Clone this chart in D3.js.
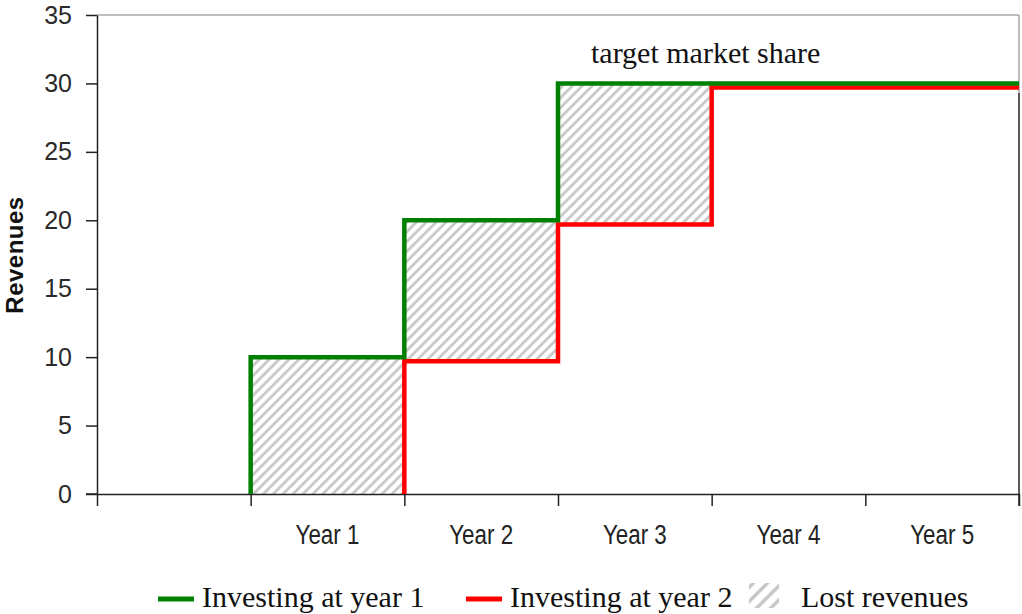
<!DOCTYPE html>
<html>
<head>
<meta charset="utf-8">
<script src="https://cdn.jsdelivr.net/npm/d3@7"></script>
<style>
  body { margin: 0; background: #fff; }
  svg { display: block; }
</style>
</head>
<body>
<script>
// chart data
const categories = ["", "Year 1", "Year 2", "Year 3", "Year 4", "Year 5"];
const investYear1 = [null, 10, 20, 30, 30, 30];
const investYear2 = [null, null, 9.7, 19.7, 29.7, 29.7];
const lostBands = ["Year 1", "Year 2", "Year 3"];
const yTicks = [0, 5, 10, 15, 20, 25, 30, 35];

const width = 1022;
const height = 614;
const margin = {top: 15, right: 3, bottom: 120, left: 97};

const svg = d3.select("body")
    .append("svg")
    .attr("width", width)
    .attr("height", height);

const defs = svg.append("defs");

defs.append("pattern")
    .attr("id", "hatch")
    .attr("patternUnits", "userSpaceOnUse")
    .attr("width", 7)
    .attr("height", 7)
    .attr("patternTransform", "rotate(45)")
    .append("line")
    .attr("x1", 3.5).attr("y1", 0)
    .attr("x2", 3.5).attr("y2", 7)
    .attr("stroke", "#c4c4c4")
    .attr("stroke-width", 2.6);

defs.append("pattern")
    .attr("id", "hatch-big")
    .attr("patternUnits", "userSpaceOnUse")
    .attr("width", 10)
    .attr("height", 10)
    .attr("patternTransform", "rotate(45)")
    .append("line")
    .attr("x1", 5).attr("y1", 0)
    .attr("x2", 5).attr("y2", 10)
    .attr("stroke", "#c4c4c4")
    .attr("stroke-width", 3.4);

const x = d3.scaleBand()
    .domain(categories)
    .range([margin.left, width - margin.right]);

const y = d3.scaleLinear()
    .domain([0, 35])
    .range([height - margin.bottom, margin.top]);

const x0 = margin.left, x1 = width - margin.right;
const y0 = y(0), yTop = y(35);

// hatched lost revenue
svg.append("g")
    .selectAll("rect")
    .data(lostBands)
    .enter()
    .append("rect")
    .attr("x", d => x(d))
    .attr("width", x.bandwidth())
    .attr("y", d => y(investYear1[categories.indexOf(d)]))
    .attr("height", d => {
        const i = categories.indexOf(d);
        return y(investYear2[i] || 0) - y(investYear1[i]);
    })
    .attr("fill", "url(#hatch)");

// plot border (top / right)
svg.append("line")
    .attr("x1", x0).attr("x2", x1)
    .attr("y1", yTop).attr("y2", yTop)
    .attr("stroke", "#a8a8a8").attr("stroke-width", 1.5);
svg.append("line")
    .attr("x1", x1).attr("x2", x1)
    .attr("y1", yTop).attr("y2", y(29.3))
    .attr("stroke", "#a8a8a8").attr("stroke-width", 1.5);
svg.append("line")
    .attr("x1", x1).attr("x2", x1)
    .attr("y1", y(29.3)).attr("y2", y0 + 12)
    .attr("stroke", "#222").attr("stroke-width", 1.5);

// y axis
const yAxis = svg.append("g")
    .attr("transform", `translate(${x0},0)`)
    .call(d3.axisLeft(y).tickValues(yTicks).tickSize(11).tickPadding(14).tickSizeOuter(0));
yAxis.select(".domain").attr("stroke", "#222").attr("stroke-width", 1.5);
yAxis.selectAll(".tick line").attr("stroke", "#222").attr("stroke-width", 1.5);
yAxis.selectAll("text")
    .attr("font-family", "'Liberation Sans', Arial, sans-serif")
    .attr("font-size", 25)
    .attr("fill", "#2a2a2a");

// x axis: ticks at band boundaries
const bounds = categories.map(c => x(c)).concat([x1]);
const xTickAxis = svg.append("g")
    .attr("transform", `translate(0,${y0})`)
    .call(d3.axisBottom(d3.scaleLinear().domain([x0, x1]).range([x0, x1]))
        .tickValues(bounds).tickSize(12).tickFormat("").tickSizeOuter(0));
xTickAxis.select(".domain").attr("stroke", "#222").attr("stroke-width", 1.5);
xTickAxis.selectAll(".tick line").attr("stroke", "#222").attr("stroke-width", 1.5);

const xLabelAxis = svg.append("g")
    .attr("transform", `translate(0,${y0})`)
    .call(d3.axisBottom(x).tickSize(0).tickPadding(30));
xLabelAxis.select(".domain").remove();
xLabelAxis.selectAll("text")
    .attr("font-family", "'Liberation Sans', Arial, sans-serif")
    .attr("font-size", 28)
    .attr("fill", "#222")
    .attr("transform", "scale(0.8,1)");

// y axis extends slightly left along baseline
svg.append("line")
    .attr("x1", x0 - 11).attr("x2", x0)
    .attr("y1", y0).attr("y2", y0)
    .attr("stroke", "#222").attr("stroke-width", 1.5);

svg.append("text")
    .attr("transform", "translate(23,255) rotate(-90)")
    .attr("text-anchor", "middle")
    .attr("font-family", "'Liberation Sans', Arial, sans-serif")
    .attr("font-weight", "bold")
    .attr("font-size", 24)
    .attr("letter-spacing", 0.5)
    .attr("fill", "#111")
    .text("Revenues");

// step lines
function stepPoints(values) {
    const i0 = values.findIndex(v => v !== null);
    const pts = [[x(categories[i0]), 0]];
    for (let i = i0; i < values.length; i++) pts.push([x(categories[i]), values[i]]);
    pts.push([x1, values[values.length - 1]]);
    return pts;
}

const line = d3.line()
    .x(d => d[0])
    .y(d => y(d[1]))
    .curve(d3.curveStepAfter);

svg.append("path")
    .attr("d", line(stepPoints(investYear2)))
    .attr("fill", "none")
    .attr("stroke", "#ff0000")
    .attr("stroke-width", 4.5);

svg.append("path")
    .attr("d", line(stepPoints(investYear1)))
    .attr("fill", "none")
    .attr("stroke", "#008000")
    .attr("stroke-width", 4.5);

svg.append("text")
    .attr("x", 591)
    .attr("y", 63)
    .attr("font-family", "'Liberation Serif', 'Times New Roman', serif")
    .attr("font-size", 30)
    .attr("fill", "#111")
    .text("target market share");

// legend
const legend = svg.append("g")
    .attr("font-family", "'Liberation Serif', 'Times New Roman', serif")
    .attr("font-size", 30)
    .attr("fill", "#111");

const legendItems = [
    {label: "Investing at year 1", color: "#008000", x: 158},
    {label: "Investing at year 2", color: "#ff0000", x: 466},
    {label: "Lost revenues", hatch: true, x: 749}
];

legendItems.forEach(d => {
    if (d.hatch) {
        legend.append("rect")
            .attr("x", d.x).attr("y", 583)
            .attr("width", 30).attr("height", 25)
            .attr("fill", "url(#hatch-big)");
        legend.append("text").attr("x", d.x + 52).attr("y", 607).text(d.label);
    } else {
        legend.append("line")
            .attr("x1", d.x).attr("x2", d.x + 36)
            .attr("y1", 599).attr("y2", 599)
            .attr("stroke", d.color).attr("stroke-width", 5);
        legend.append("text").attr("x", d.x + 44).attr("y", 607).text(d.label);
    }
});
</script>
</body>
</html>
